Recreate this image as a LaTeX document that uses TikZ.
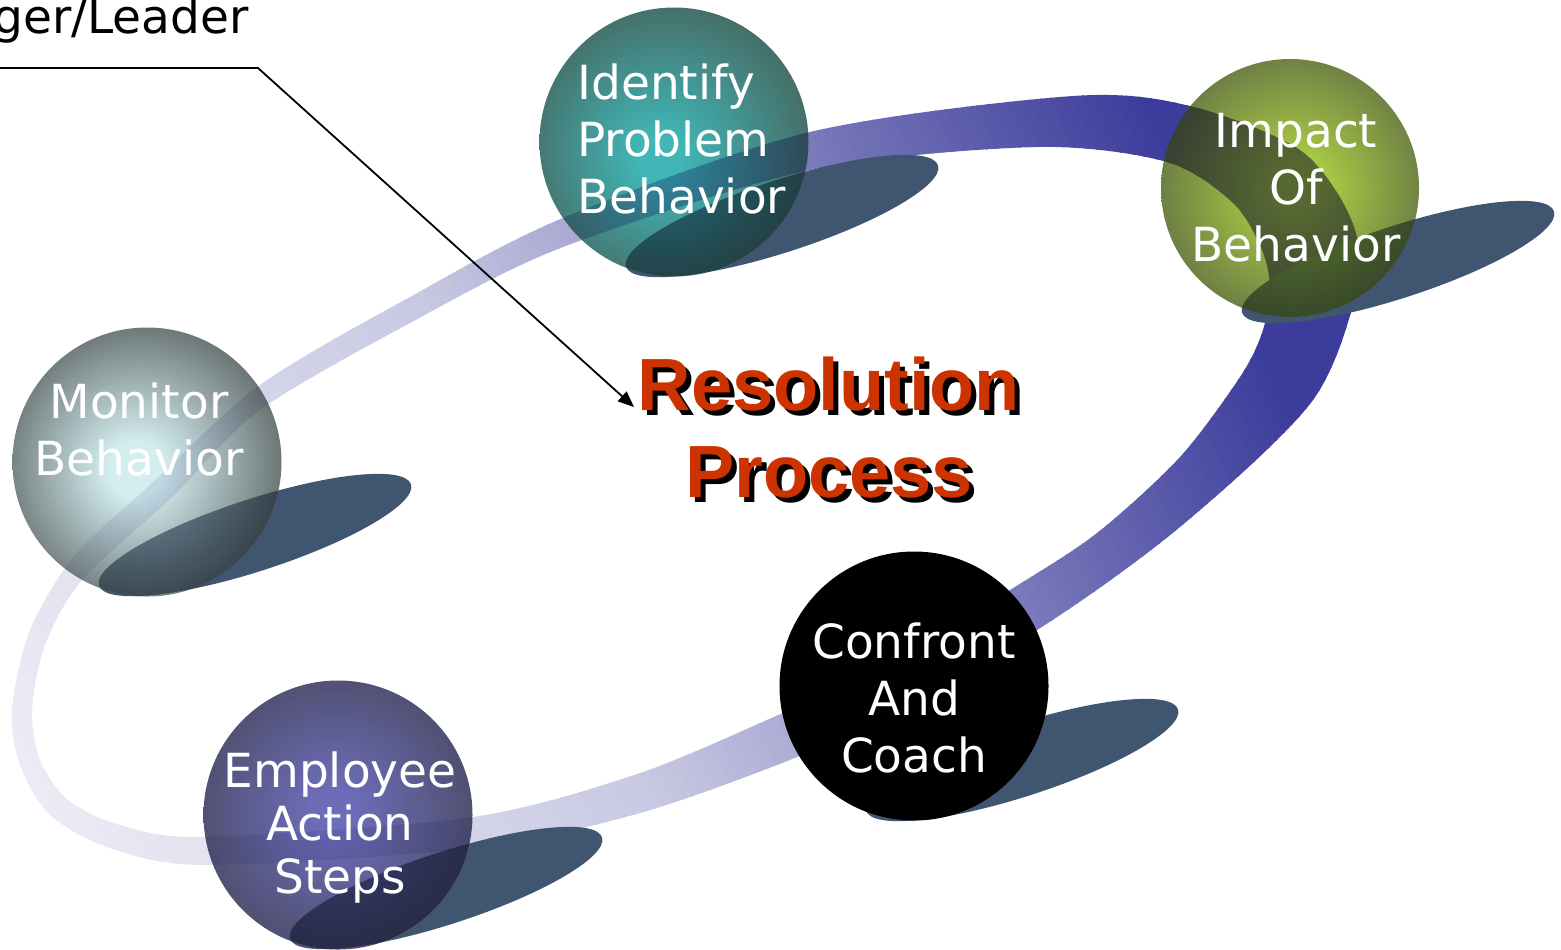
\documentclass[tikz,border=0pt]{standalone}
\usepackage{fontspec}
\setmainfont{DejaVu Sans}
\newfontfamily\titlefont{Liberation Sans}
\usetikzlibrary{arrows.meta}

\definecolor{ribbonblue}{RGB}{60,60,156}
\definecolor{shadowslate}{RGB}{64,86,112}
\definecolor{titlered}{RGB}{204,51,0}
\definecolor{identifyin}{RGB}{64,182,182}
\definecolor{identifyout}{RGB}{70,110,104}
\definecolor{impactin}{RGB}{172,206,68}
\definecolor{impactout}{RGB}{106,122,68}
\definecolor{monitorin}{RGB}{212,238,240}
\definecolor{monitorout}{RGB}{104,114,114}
\definecolor{employeein}{RGB}{108,108,184}
\definecolor{employeeout}{RGB}{78,78,108}

% sphere shadings, highlight a little off centre
\pgfdeclareradialshading{identifyshade}{\pgfpoint{-3bp}{-3bp}}{color(0bp)=(identifyin);
    color(4bp)=(identifyin); color(27bp)=(identifyout); color(50bp)=(identifyout)}
\pgfdeclareradialshading{impactshade}{\pgfpoint{1bp}{0bp}}{color(0bp)=(impactin);
    color(5bp)=(impactin); color(27bp)=(impactout); color(50bp)=(impactout)}
\pgfdeclareradialshading{monitorshade}{\pgfpoint{-2.5bp}{-1.5bp}}{color(0bp)=(monitorin);
    color(5bp)=(monitorin); color(27bp)=(monitorout); color(50bp)=(monitorout)}
\pgfdeclareradialshading{employeeshade}{\pgfpoint{-1bp}{1bp}}{color(0bp)=(employeein);
    color(4bp)=(employeein); color(27bp)=(employeeout); color(50bp)=(employeeout)}

\begin{document}
\begin{tikzpicture}[x=0.5pt, y=-0.5pt,
        sphere/.style={circle, inner sep=0pt, minimum size=134.5pt},
        caption/.style={text=white, align=center, anchor=base, inner sep=0pt,
            font=\fontsize{23.5}{28.5}\selectfont},
        headline/.style={align=center, anchor=base, inner sep=0pt,
            font=\titlefont\bfseries\fontsize{37}{43.5}\selectfont},
        dropshadow/.style={fill=shadowslate},
        backlight/.style={fill=white, fill opacity=0.35},
        pointer/.style={-{Triangle[length=8pt, width=6.5pt]}, line width=0.9pt}
    ]
    \useasboundingbox (0,0) rectangle (1561,949);
    \clip (0,0) rectangle (1561,949);
    \coordinate (identifyc) at (674,142);
    \coordinate (impactc) at (1290,188);
    \coordinate (monitorc) at (147,462);
    \coordinate (employeec) at (338,815);
    \coordinate (confrontc) at (914,686);
    % Ribbon
    \begin{scope}[even odd rule]
        \clip
            plot[smooth cycle] coordinates {(12,710) (30,630) (75,555) (150,485)
                (260,385) (410,297) (563,218) (810,132) (1073,96) (1190,106)
                (1300,150) (1350,217) (1358,283) (1313,400) (1180,527) (1037,630)
                (880,715) (797,757) (640,813) (473,848) (207,865) (110,848)
                (50,815) (20,765)}
            plot[smooth cycle] coordinates {(32,710) (45,645) (82,580) (172,497)
                (260,410) (410,323) (563,247) (810,170) (1037,147) (1167,162)
                (1233,203) (1262,250) (1270,290) (1262,333) (1240,377) (1180,457)
                (1097,533) (1010,590) (870,675) (783,713) (640,773) (473,817)
                (207,837) (120,825) (68,800) (40,760)};
        \foreach \p in {-330,-320,...,1140} {
            \pgfmathsetmacro\tint{max(0,min(100,ifthenelse(\p<250,28+(\p-250)*0.032,28+(\p-250)*0.097)))}
            \fill[ribbonblue!\tint!white]
                ({\p*0.906-1500*0.423},{-\p*0.423-1500*0.906}) --
                ({\p*0.906+1500*0.423},{-\p*0.423+1500*0.906}) --
                ({(\p+12)*0.906+1500*0.423},{-(\p+12)*0.423+1500*0.906}) --
                ({(\p+12)*0.906-1500*0.423},{-(\p+12)*0.423-1500*0.906}) -- cycle;
        }
    \end{scope}
    % Shadows
    \foreach \cx/\cy in {782/216, 1398/262, 255/535, 446/888, 1022/760}
        \fill[dropshadow, rotate around={18:(\cx,\cy)}] (\cx,\cy) ellipse [x radius=164, y radius=36];
    \fill[backlight] (identifyc) circle (134.5) (monitorc) circle (134.5)
        (employeec) circle (134.5) (impactc) circle (129);
    % Spheres
    \begin{scope}[blend mode=multiply]
        \node[sphere, shade, shading=identifyshade] (identify) at (identifyc) {};
        \node[sphere, minimum size=129pt, shade, shading=impactshade] (impact) at (impactc) {};
        \node[sphere, shade, shading=monitorshade] (monitor) at (monitorc) {};
        \node[sphere, shade, shading=employeeshade] (employee) at (employeec) {};
        \node[sphere, fill=black] (confront) at (confrontc) {};
    \end{scope}
    % Labels (base = last line)
    \node[caption, align=left, anchor=base west] (identifytext) at (577,213) {Identify\\Problem\\Behavior};
    \node[caption] (impacttext) at (1296,261) {Impact\\Of\\Behavior};
    \node[caption] (monitortext) at (139,475) {Monitor\\Behavior};
    \node[caption, font=\fontsize{23.5}{26.5}\selectfont] (employeetext) at (340,893) {Employee\\Action\\Steps};
    \node[caption] (confronttext) at (914,772) {Confront\\And\\Coach};
    % Title
    \node[headline, text=black] (titleshadow) at (834,502) {Resolution\\Process};
    \node[headline, text=titlered] (title) at (829,497) {Resolution\\Process};
    % Leader arrow
    \node[caption, text=black, anchor=base east] (leader) at (249,33) {ger/Leader};
    \coordinate (leadstart) at (0,68);
    \coordinate (leadbend) at (258,68);
    \coordinate (tip) at (634,407);
    \draw[pointer] (leadstart) -- (leadbend) -- (tip);
\end{tikzpicture}
\end{document}
